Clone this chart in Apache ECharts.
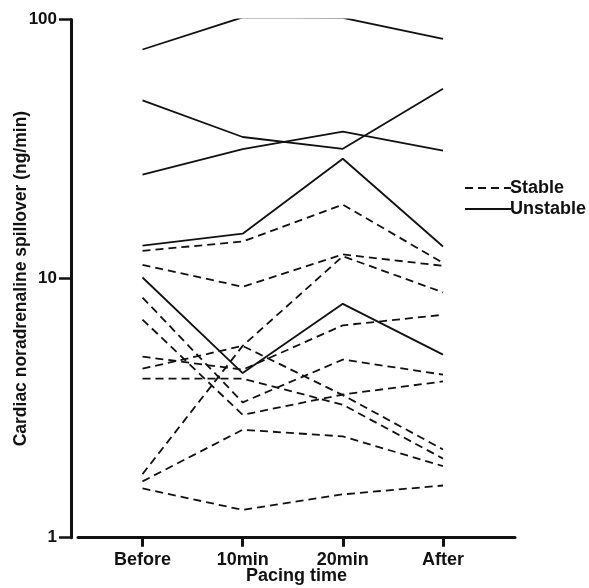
<!DOCTYPE html>
<html>
<head>
<meta charset="utf-8">
<script src="https://cdn.jsdelivr.net/npm/echarts@6/dist/echarts.min.js"></script>
<style>
  html, body { margin: 0; padding: 0; background: #fff; }
  #chart { width: 589px; height: 588px; }
</style>
</head>
<body>
<div id="chart"></div>
<script>
// Sampling points along the pacing protocol
const categories = ['Before', '10min', '20min', 'After'];
const yTicks = [1, 10, 100];

// Cardiac noradrenaline spillover (ng/min), one array per patient
// Stable angina patients
const stable1 = [12.8, 13.9, 19.3, 11.5];
const stable2 = [11.3, 9.3, 12.4, 11.2];
const stable3 = [1.76, 5.5, 12.2, 8.85];
const stable4 = [5.0, 4.45, 6.6, 7.25];
const stable5 = [4.49, 5.5, 3.55, 2.19];
const stable6 = [4.11, 4.11, 3.26, 2.02];
const stable7 = [8.45, 3.33, 4.87, 4.26];
const stable8 = [6.95, 2.98, 3.57, 4.01];
const stable9 = [1.65, 2.61, 2.46, 1.89];
const stable10 = [1.55, 1.28, 1.47, 1.59];

// Unstable angina patients
const unstable1 = [76.6, 102, 101.5, 84.2];
const unstable2 = [48.7, 35.2, 31.7, 54.0];
const unstable3 = [25.2, 31.6, 36.9, 31.2];
const unstable4 = [13.4, 14.9, 29.0, 13.3];
const unstable5 = [10.1, 4.32, 7.99, 5.09];

const stableGroups = [stable1, stable2, stable3, stable4, stable5, stable6, stable7, stable8, stable9, stable10];
const unstableGroups = [unstable1, unstable2, unstable3, unstable4, unstable5];

const INK = '#111';
const FONT = '"Liberation Sans", Arial, sans-serif';

function makeSeries(name, values, dashed) {
  return {
    name: name,
    type: 'line',
    symbol: 'none',
    showSymbol: false,
    silent: true,
    animation: false,
    lineStyle: { color: INK, width: 1.8, type: dashed ? [8, 5] : 'solid' },
    itemStyle: { color: INK },
    data: values.map((v, i) => [i, v])
  };
}

const series = []
  .concat(stableGroups.map(v => makeSeries('Stable', v, true)))
  .concat(unstableGroups.map(v => makeSeries('Unstable', v, false)));

const chart = echarts.init(document.getElementById('chart'), null, { renderer: 'canvas' });
chart.setOption({
  backgroundColor: '#fff',
  animation: false,
  grid: { left: 78, right: 74, top: 19.5, bottom: 50.3, containLabel: false, outerBoundsMode: 'none' },
  legend: {
    orient: 'vertical',
    left: 459,
    top: 174,
    itemWidth: 46,
    itemHeight: 14,
    itemGap: 3,
    data: ['Stable', 'Unstable'],
    itemStyle: { opacity: 0 },
    textStyle: { color: INK, fontFamily: FONT, fontWeight: 'bold', fontSize: 18, padding: [0, 0, 0, -6] },
    selectedMode: false
  },
  xAxis: {
    type: 'value',
    min: -0.644,
    max: 3.719,
    name: 'Pacing time',
    nameLocation: 'middle',
    nameGap: 29,
    nameMoveOverlap: false,
    nameTextStyle: { color: INK, fontFamily: FONT, fontWeight: 'bold', fontSize: 18 },
    splitLine: { show: false },
    axisLine: { onZero: false, lineStyle: { color: INK, width: 3 } },
    axisTick: { show: true, length: 9, customValues: [0, 1, 2, 3], lineStyle: { color: INK, width: 3 } },
    axisLabel: {
      customValues: [0, 1, 2, 3],
      formatter: v => categories[Math.round(v)],
      margin: 13,
      color: INK, fontFamily: FONT, fontWeight: 'bold', fontSize: 18
    }
  },
  yAxis: {
    type: 'log',
    logBase: 10,
    min: 1,
    max: 100,
    offset: 7,
    name: 'Cardiac noradrenaline spillover (ng/min)',
    nameLocation: 'middle',
    nameGap: 41,
    nameMoveOverlap: false,
    nameTextStyle: { color: INK, fontFamily: FONT, fontWeight: 'bold', fontSize: 17.5 },
    splitLine: { show: false },
    axisLine: { show: true, onZero: false, lineStyle: { color: INK, width: 3 } },
    axisTick: { show: true, length: 12, customValues: yTicks, lineStyle: { color: INK, width: 2.5 } },
    axisLabel: {
      customValues: yTicks,
      formatter: v => String(Math.round(v)),
      margin: 14,
      color: INK, fontFamily: FONT, fontWeight: 'bold', fontSize: 17
    }
  },
  series: series
});
</script>
</body>
</html>
